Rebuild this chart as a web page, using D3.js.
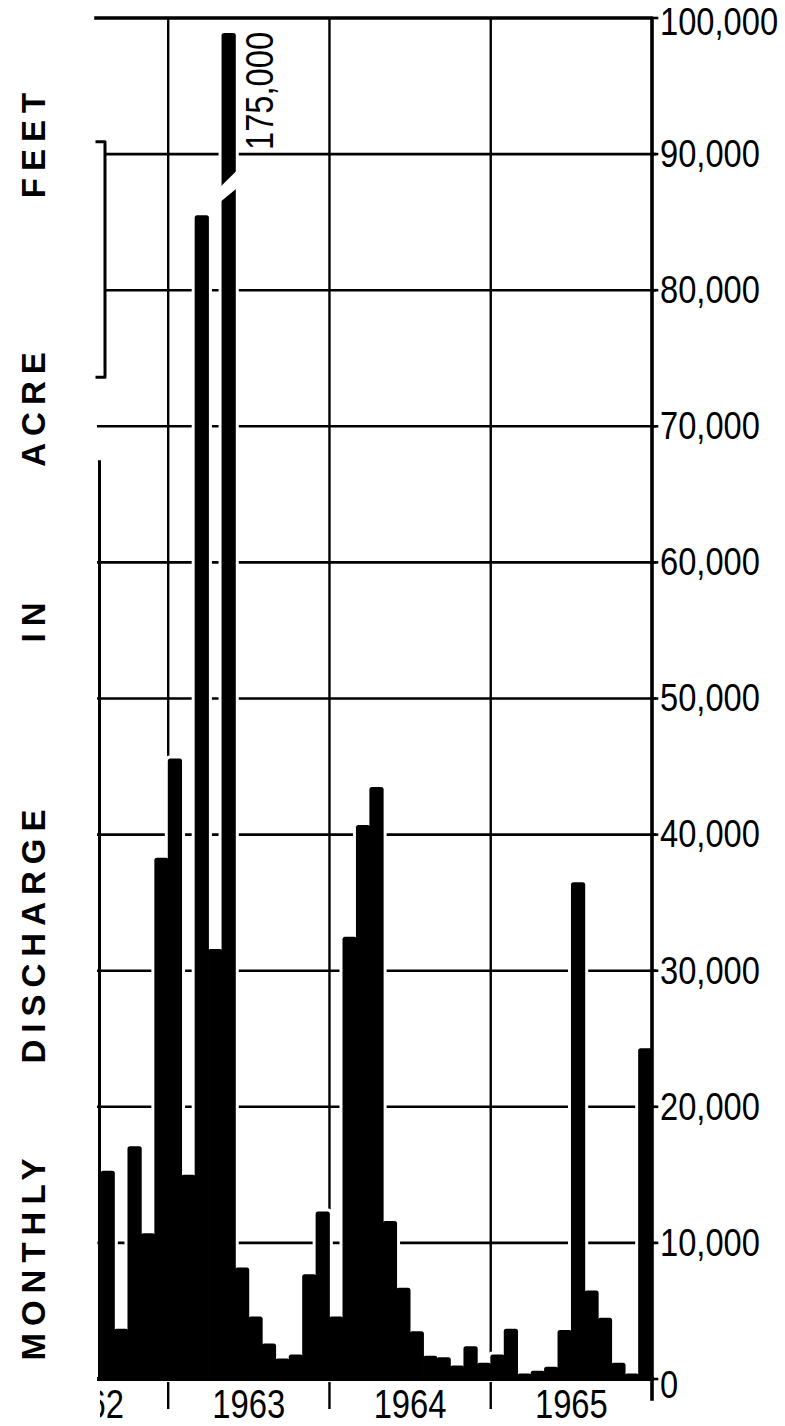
<!DOCTYPE html>
<html>
<head>
<meta charset="utf-8">
<script src="https://cdn.jsdelivr.net/npm/d3@7"></script>
<style>
  html, body { margin: 0; padding: 0; background: #fff; }
  svg { display: block; }
</style>
</head>
<body>
<svg id="chart" width="785" height="1426"></svg>
<script>
// Monthly discharge in acre-feet, August 1962 through December 1965
const months = [
  "1962-08","1962-09","1962-10","1962-11","1962-12",
  "1963-01","1963-02","1963-03","1963-04","1963-05","1963-06",
  "1963-07","1963-08","1963-09","1963-10","1963-11","1963-12",
  "1964-01","1964-02","1964-03","1964-04","1964-05","1964-06",
  "1964-07","1964-08","1964-09","1964-10","1964-11","1964-12",
  "1965-01","1965-02","1965-03","1965-04","1965-05","1965-06",
  "1965-07","1965-08","1965-09","1965-10","1965-11","1965-12"
];
const discharge = [
  15300, 3700, 17100, 10700, 38300,
  45600, 15000, 85500, 31600, 175000, 8200,
  4600, 2600, 1500, 1800, 7700, 12300,
  4600, 32500, 40700, 43500, 11600, 6700,
  3500, 1700, 1600, 1000, 2400, 1200,
  1800, 3700, 400, 600, 900, 3600,
  36500, 6500, 4500, 1200, 400, 24300
];
const years = [1962, 1963, 1964, 1965];
const yTicks = [0, 10000, 20000, 30000, 40000, 50000, 60000, 70000, 80000, 90000, 100000];
const titleWords = ["MONTHLY", "DISCHARGE", "IN", "ACRE", "FEET"];
const peakLabel = "175,000";

(function draw() {
  const svg = d3.select("#chart");
  const plotLeft = 101, plotRight = 652, plotTop = 18, plotBase = 1379;
  const baseYear = years[0];
  const monthIndex = m => (+m.slice(0, 4) - baseYear) * 12 + (+m.slice(5, 7) - 1);
  const first = monthIndex(months[0]);
  const last = monthIndex(months[months.length - 1]) + 1;

  const x = d3.scaleLinear().domain([first, last]).range([plotLeft, plotRight]);
  const y = d3.scaleLinear().domain([0, 100000]).range([plotBase, plotTop]);

  // bars taller than the frame are cut off just below the top line and broken
  const barCap = 98900;
  const breakLow = [86500, 87500];   // lower edge of the break (left, right)
  const breakHigh = [87600, 88800];  // upper edge of the break (left, right)

  // condensed numerals: regular sans squeezed horizontally
  const numFont = "'Liberation Sans', Arial, sans-serif";
  const squeeze = 0.86;

  // ---- grid ----
  const grid = svg.append("g").attr("stroke", "#000").attr("fill", "none");
  yTicks.filter(t => t > 0 && t < 100000).forEach(t => {
    const x0 = (t >= 73600 && t <= 90900) ? 105 : 97;
    grid.append("line")
      .attr("x1", x0).attr("x2", plotRight + 4)
      .attr("y1", y(t)).attr("y2", y(t))
      .attr("stroke-width", 2.6);
  });
  years.slice(1).forEach(yr => {
    const xv = x((yr - baseYear) * 12);
    grid.append("line")
      .attr("x1", xv).attr("x2", xv)
      .attr("y1", y(100000)).attr("y2", plotBase + 30)
      .attr("stroke-width", 2.4);
  });

  // ---- bars ----
  const data = months.map((m, i) => ({ m, i: monthIndex(m), v: discharge[i] }));
  function barPath(d) {
    const x0 = x(d.i) - 0.4, x1 = x(d.i + 1) + 0.4;
    const yt = y(Math.min(d.v, barCap)), r = Math.min(2.5, (plotBase - yt) / 2);
    return `M${x0},${plotBase}V${yt + r}Q${x0},${yt} ${x0 + r},${yt}H${x1 - r}Q${x1},${yt} ${x1},${yt + r}V${plotBase}Z`;
  }
  // white halo keeps the grid lines clear of the bar edges
  svg.append("g").selectAll("path").data(data).join("path")
    .attr("d", barPath)
    .attr("fill", "#fff").attr("stroke", "#fff").attr("stroke-width", 6)
    .attr("stroke-linejoin", "round");
  svg.append("g").selectAll("path").data(data).join("path")
    .attr("d", barPath)
    .attr("fill", "#000");

  // break marks on bars that run off the scale
  data.filter(d => d.v > barCap).forEach(d => {
    const x0 = x(d.i) - 1.5, x1 = x(d.i + 1) + 1.5;
    svg.append("path")
      .attr("d", `M${x0},${y(breakLow[0])}L${x1},${y(breakLow[1])}L${x1},${y(breakHigh[1])}L${x0},${y(breakHigh[0])}Z`)
      .attr("fill", "#fff");
    svg.append("text")
      .attr("transform", `translate(${x(d.i + 1) + 25},${y(90300)}) rotate(-90) scale(${squeeze},1)`)
      .attr("text-anchor", "start")
      .attr("dominant-baseline", "central")
      .attr("font-family", numFont)
      .attr("font-size", 38)
      .attr("fill", "#000")
      .text(peakLabel);
  });

  // ---- axes ----
  const axes = svg.append("g").attr("stroke", "#000").attr("fill", "none").attr("stroke-linecap", "square");
  // top line and right-hand value axis
  axes.append("path")
    .attr("d", `M96,${y(100000)}H${plotRight}V${plotBase + 20}`)
    .attr("stroke-width", 3.6).attr("stroke-linejoin", "round");
  // baseline
  axes.append("line")
    .attr("x1", 99).attr("x2", plotRight)
    .attr("y1", plotBase).attr("y2", plotBase)
    .attr("stroke-width", 4);
  // left edge: lower run and the upper bracket
  axes.append("line")
    .attr("x1", 99.5).attr("x2", 99.5)
    .attr("y1", y(67400)).attr("y2", plotBase)
    .attr("stroke-width", 3);
  axes.append("path")
    .attr("d", `M97,${y(90900)}H105V${y(73600)}H97`)
    .attr("stroke-width", 3).attr("stroke-linejoin", "round");
  // right tick stubs
  yTicks.forEach(t => {
    axes.append("line")
      .attr("x1", plotRight).attr("x2", plotRight + 5)
      .attr("y1", y(t)).attr("y2", y(t))
      .attr("stroke-width", 2.6);
  });

  // ---- value labels (end labels nudged inward to stay on the page) ----
  const labelShift = t => t === 0 ? 6 : (t === 100000 ? 4 : 0);
  svg.append("g").selectAll("text").data(yTicks).join("text")
    .attr("transform", t => `translate(660,${y(t) + labelShift(t)}) scale(${squeeze},1)`)
    .attr("dominant-baseline", "central")
    .attr("font-family", numFont)
    .attr("font-size", 38)
    .attr("fill", "#000")
    .text(t => d3.format(",")(t));

  // ---- year labels, centred on each calendar year; the partial first year is cut at the left edge ----
  svg.append("clipPath").attr("id", "leftClip")
    .append("rect").attr("x", 100).attr("y", 0).attr("width", 685).attr("height", 1426);
  const xMid = yr => x((yr - baseYear) * 12 + 6);
  const yearGroups = svg.append("g").selectAll("g").data(years).join("g")
    .attr("clip-path", yr => xMid(yr) - 40 < plotLeft ? "url(#leftClip)" : null);
  yearGroups.append("text")
    .attr("transform", yr => `translate(${xMid(yr)},${plotBase + 25}) scale(0.8,1)`)
    .attr("text-anchor", "middle")
    .attr("dominant-baseline", "central")
    .attr("font-family", numFont)
    .attr("font-size", 41)
    .attr("fill", "#000")
    .text(yr => yr);

  // ---- vertical title ----
  const titleCentres = [1256, 933, 619, 406, 142];
  svg.append("g").selectAll("text").data(titleWords).join("text")
    .attr("transform", (w, i) => `translate(33,${titleCentres[i]}) rotate(-90)`)
    .attr("text-anchor", "middle")
    .attr("dominant-baseline", "central")
    .attr("font-family", "'Liberation Sans', Arial, sans-serif")
    .attr("font-weight", "bold")
    .attr("font-size", 33)
    .attr("letter-spacing", 7)
    .attr("fill", "#000")
    .text(w => w);
})();
</script>
</body>
</html>
